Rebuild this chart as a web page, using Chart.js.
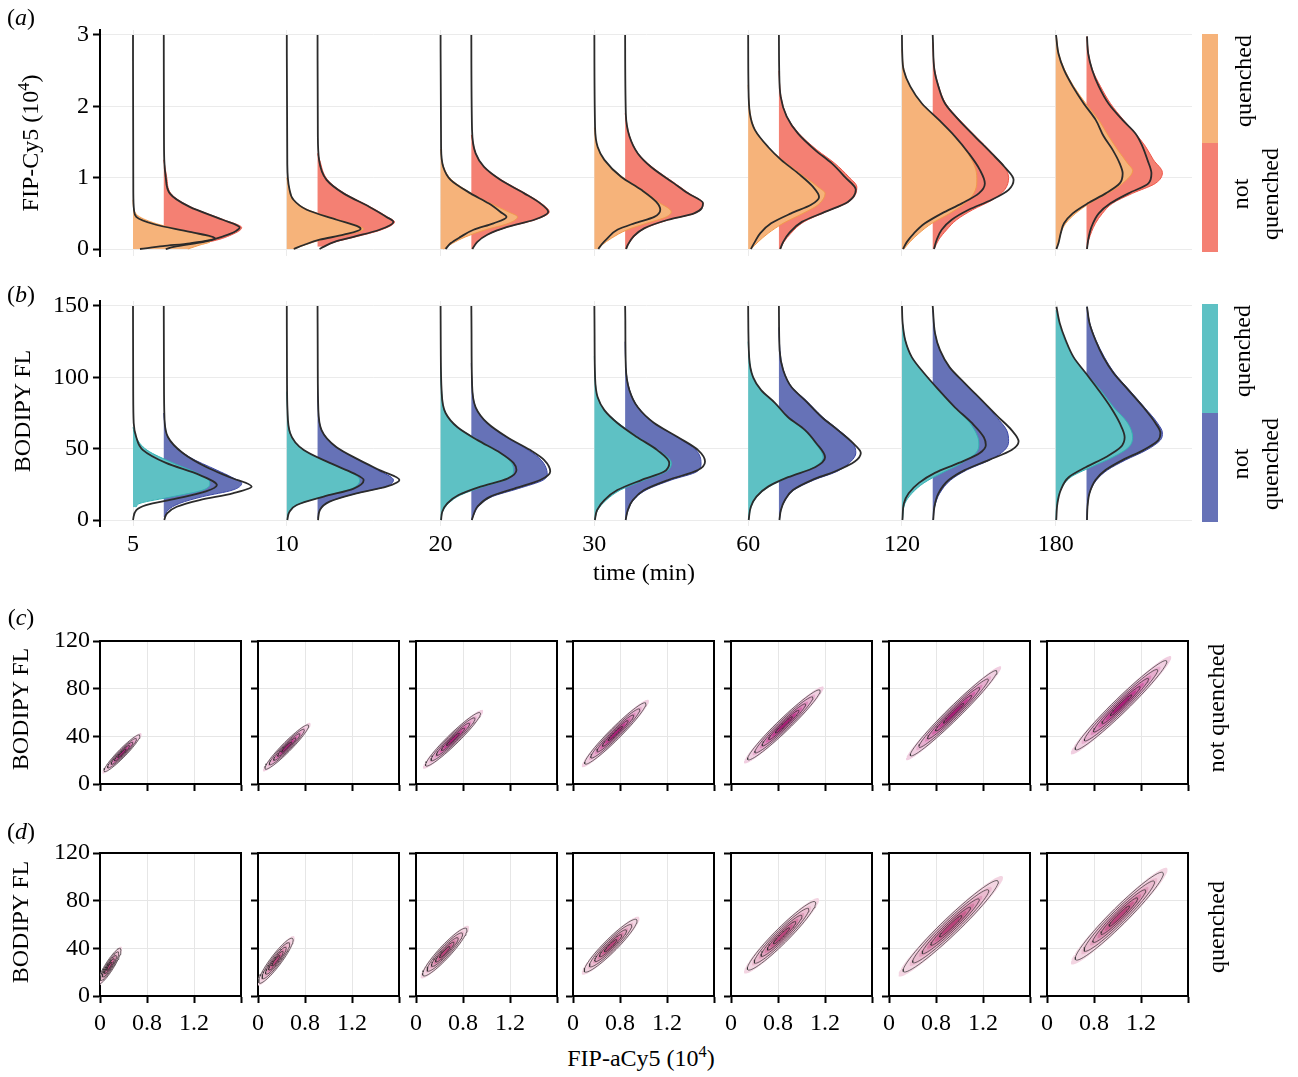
<!DOCTYPE html>
<html>
<head>
<meta charset="utf-8">
<script src="https://cdn.jsdelivr.net/npm/chart.js@4.4.0/dist/chart.umd.min.js"></script>
<style>
  body { margin: 0; background: #fff; }
  #fig { position: relative; width: 1298px; height: 1077px; overflow: hidden; background: #fff; }
  canvas { position: absolute; }
  .lbl { position: absolute; font-family: 'Liberation Serif', 'Times New Roman', serif; font-size: 24px;
         line-height: 1; white-space: nowrap; color: #000; transform: translate(-50%, -50%); }
  .rot { transform: translate(-50%, -50%) rotate(-90deg); text-align: center; }
  .two { line-height: 30px; }
  sup { font-size: 0.68em; line-height: 0; vertical-align: 0.55em; }
  .bar { position: absolute; width: 16px; }
</style>
</head>
<body>
<div id="fig">
  <canvas id="cy5" width="1298" height="276" style="left:0;top:0"></canvas>
  <canvas id="bodipy" width="1298" height="286" style="left:0;top:280px"></canvas>

  <div class="lbl" style="left:21px;top:17px">(<i>a</i>)</div>
  <div class="lbl" style="left:21px;top:294px">(<i>b</i>)</div>
  <div class="lbl" style="left:21px;top:617px">(<i>c</i>)</div>
  <div class="lbl" style="left:21px;top:831px">(<i>d</i>)</div>

  <div class="lbl rot" style="left:30px;top:143px">FIP-Cy5 (10<sup>4</sup>)</div>
  <div class="lbl rot" style="left:22px;top:411px">BODIPY FL</div>
  <div class="lbl rot" style="left:20px;top:709px">BODIPY FL</div>
  <div class="lbl rot" style="left:20px;top:922px">BODIPY FL</div>
  <div class="lbl" style="left:644px;top:572px">time (min)</div>
  <div class="lbl" style="left:641px;top:1058px">FIP-aCy5 (10<sup>4</sup>)</div>

  <div class="bar" style="left:1202px;top:34px;height:109px;background:#f6b37a"></div>
  <div class="bar" style="left:1202px;top:143px;height:109px;background:#f48073"></div>
  <div class="bar" style="left:1202px;top:304px;height:109px;background:#5ec1c4"></div>
  <div class="bar" style="left:1202px;top:413px;height:109px;background:#6672b7"></div>
  <div class="lbl rot" style="left:1243px;top:81px">quenched</div>
  <div class="lbl rot two" style="left:1255px;top:194px">not<br>quenched</div>
  <div class="lbl rot" style="left:1242px;top:351px">quenched</div>
  <div class="lbl rot two" style="left:1255px;top:464px">not<br>quenched</div>
  <div class="lbl rot" style="left:1216px;top:708px">not quenched</div>
  <div class="lbl rot" style="left:1216px;top:927px">quenched</div>
</div>

<script>
// ---- data ----
const timeLabels = ['5', '10', '20', '30', '60', '120', '180'];
const cy5Ticks = [0, 1, 2, 3];
const bodipyTicks = [0, 50, 100, 150];
const contourXTicks = [0, 0.4, 0.8, 1.2];
const contourXTickLabels = ['0', '0.8', '1.2', ''];
const contourYTicks = [0, 40, 80, 120];

// violin profiles: [signal level, relative density], one list per time point
const cy5QuenchedKde = [
  [[0,55],[0.01,57],[0.056,67],[0.1,77],[0.15,78],[0.23,60],[0.34,27],[0.45,6.7],[0.55,1],[0.69,0]],
  [[0,7],[0.056,18],[0.13,35],[0.2,60],[0.28,77],[0.31,74],[0.41,52],[0.55,21],[0.69,7],[0.85,2.5],[1.0,0]],
  [[0,3],[0.08,12],[0.17,25],[0.27,45],[0.36,68],[0.45,77],[0.52,68],[0.64,50],[0.78,31],[0.97,11],[1.15,3],[1.4,0]],
  [[0,4],[0.06,8],[0.15,17],[0.27,33],[0.36,52],[0.45,72],[0.52,77],[0.66,64],[0.83,48],[1.01,28],[1.25,10],[1.43,3.3],[1.7,0]],
  [[0,3],[0.1,10],[0.22,20],[0.36,35],[0.5,55],[0.62,70],[0.78,77],[0.87,70],[1.06,52],[1.25,34],[1.43,20],[1.67,7],[1.9,2],[2.3,0]],
  [[0,2],[0.1,8],[0.22,17],[0.36,30],[0.5,48],[0.64,63],[0.78,72],[0.95,75],[1.11,74],[1.34,66],[1.58,53],[1.81,37],[2.04,20],[2.28,8],[2.51,2],[2.8,0]],
  [[0,0.7],[0.08,2.7],[0.22,5],[0.36,10],[0.5,20],[0.64,34],[0.78,52],[0.92,67],[1.1,77],[1.2,72],[1.39,62],[1.58,53],[1.81,43],[2.04,30],[2.28,18],[2.51,9],[2.74,3],[2.98,0.7]]
];
const cy5QuenchedFit = [
  [[0,7],[0.04,30],[0.08,57],[0.15,82],[0.24,57],[0.34,23],[0.45,3.3],[0.55,1],[0.8,0.3],[3,0]],
  [[0,7],[0.056,17],[0.13,33],[0.2,57],[0.28,74],[0.31,72],[0.41,50],[0.55,20],[0.69,6.7],[0.85,2.5],[1.2,0.5],[3,0]],
  [[0,5],[0.08,10],[0.17,20],[0.27,33],[0.36,53],[0.45,66],[0.52,60],[0.64,48],[0.78,30],[0.97,10],[1.15,2.7],[1.43,0.5],[3,0]],
  [[0,4],[0.06,7],[0.15,13],[0.27,23],[0.36,40],[0.45,60],[0.55,66],[0.66,62],[0.83,47],[1.01,27],[1.25,10],[1.43,3.3],[1.7,0.7],[3,0]],
  [[0,2.7],[0.1,6.7],[0.22,12],[0.36,23],[0.5,43],[0.62,63],[0.73,71],[0.87,65],[1.06,50],[1.25,33],[1.43,20],[1.67,6.7],[1.9,1.7],[2.3,0.3],[3,0]],
  [[0,1],[0.1,5],[0.22,12],[0.36,23],[0.5,40],[0.64,60],[0.78,77],[0.92,83],[1.11,78],[1.34,67],[1.58,53],[1.81,37],[2.04,20],[2.28,8.3],[2.51,1.7],[2.74,0.3],[3,0]],
  [[0,0.7],[0.08,2.7],[0.22,5],[0.36,8.3],[0.5,17],[0.64,32],[0.78,50],[0.92,64],[1.06,67],[1.2,64],[1.39,57],[1.58,48],[1.81,40],[2.04,28],[2.28,17],[2.51,8.3],[2.74,2.7],[3,0.3]]
];
const cy5NotQuenchedKde = [
  [[0.05,20],[0.1,45],[0.2,68],[0.3,78],[0.41,60],[0.59,27],[0.78,7],[1.0,3],[1.25,0]],
  [[0.03,5],[0.1,18],[0.17,38],[0.27,64],[0.38,77],[0.45,70],[0.59,53],[0.78,27],[0.97,10],[1.25,2],[1.34,0]],
  [[0,1],[0.1,6],[0.2,16],[0.31,37],[0.41,64],[0.52,78],[0.64,70],[0.78,54],[0.97,30],[1.15,13],[1.34,4.5],[1.6,0]],
  [[0,1],[0.06,3],[0.17,9],[0.29,20],[0.41,44],[0.5,70],[0.64,78],[0.78,64],[0.92,50],[1.15,27],[1.34,13],[1.58,4.5],[1.9,0]],
  [[0,1.5],[0.1,5],[0.22,12],[0.38,25],[0.52,47],[0.66,70],[0.87,78],[1.01,70],[1.2,56],[1.39,38],[1.62,20],[1.86,8],[2.14,2],[2.5,0]],
  [[0,1.5],[0.13,6],[0.27,14],[0.41,24],[0.55,40],[0.69,60],[0.83,72],[1.0,76],[1.15,72],[1.34,60],[1.58,43],[1.81,27],[2.04,13],[2.28,6],[2.51,2],[2.9,0]],
  [[0,0.5],[0.13,2.3],[0.36,9],[0.5,16],[0.64,26],[0.78,46],[0.92,69],[1.07,76],[1.25,67],[1.44,59],[1.62,49],[1.81,37],[2.04,24],[2.28,14],[2.51,6],[2.74,2],[2.98,0.5]]
];
const cy5NotQuenchedFit = [
  [[0,2],[0.03,10],[0.1,40],[0.18,60],[0.25,72],[0.3,76],[0.41,59],[0.59,26],[0.78,6],[1.0,2],[1.25,0.5],[1.6,0.2],[3,0]],
  [[0,2],[0.03,6],[0.1,17],[0.17,36],[0.27,62],[0.38,76],[0.45,69],[0.59,52],[0.78,26],[0.97,9],[1.25,1.5],[1.6,0.3],[3,0]],
  [[0,1],[0.1,6],[0.2,16],[0.31,36],[0.41,63],[0.52,77],[0.64,69],[0.78,53],[0.97,29],[1.15,12.7],[1.34,4.3],[1.67,0.7],[3,0]],
  [[0,1],[0.06,2.7],[0.17,8],[0.29,19],[0.41,43],[0.5,69],[0.64,78],[0.78,63],[0.92,49],[1.15,26],[1.34,12.7],[1.58,4.3],[1.9,0.7],[3,0]],
  [[0,1.3],[0.1,4.3],[0.22,10],[0.38,23],[0.52,46],[0.66,69],[0.83,77],[1.01,66],[1.2,53],[1.39,36],[1.62,19],[1.86,7.7],[2.14,1.7],[2.5,0.3],[3,0]],
  [[0,1.3],[0.13,4],[0.27,9],[0.41,19],[0.55,36],[0.69,59],[0.83,76],[0.97,81],[1.15,72],[1.34,59],[1.58,42],[1.81,26],[2.04,12.3],[2.28,5.7],[2.51,1.7],[2.93,0.2],[3,0]],
  [[0,0.5],[0.13,1.7],[0.31,5],[0.5,12.3],[0.64,24],[0.78,42],[0.92,62],[1.06,65],[1.25,61],[1.44,56],[1.62,49],[1.81,36],[2.04,22],[2.28,12.3],[2.51,5.7],[2.74,1.7],[2.98,0.5]]
];

const bodipyQuenchedKde = [
  [[9,3],[11.7,7],[16.4,40],[21,70],[26,77],[32,67],[40,40],[49,14],[58,3],[65,0]],
  [[0,0.5],[5.8,2.7],[10.5,10],[16.4,36],[22,65],[28,73],[32.7,66],[40,43],[49,17],[61,3.3],[77,0.7],[90,0]],
  [[0,0.5],[5.8,2],[11.7,8],[17.5,20],[23.4,43],[29,68],[35,73],[40,71],[47,60],[56,38],[65,17],[75,5],[91,1],[110,0]],
  [[0,0.5],[7,3.3],[14,12],[21,26],[28,50],[34,72],[40,77],[49,64],[58,44],[68,24],[77,10],[86,3.3],[100,0.7],[115,0]],
  [[0,0.5],[9.3,3],[16.4,9],[23.4,21],[30,41],[37,66],[44,75],[54,67],[63,56],[72,40],[82,27],[91,13],[100,5],[114,1],[125,0]],
  [[0,0.5],[11.7,3],[18.7,10],[26,22],[33,40],[40,60],[47,74],[52.6,77],[58,76],[68,68],[79,53],[91,37],[103,22],[114,10],[126,3.3],[138,0.5]],
  [[0,0.5],[11.7,1],[21,5],[30,15],[37,35],[44,57],[51,73],[58,77],[68,72],[79,58],[91,45],[103,30],[114,18],[126,9],[138,3.3],[147,0.5]]
];
const bodipyQuenchedFit = [
  [[0,0],[7,3.3],[10.5,13],[15,43],[20,73],[24.5,84],[31.5,67],[40,33],[49,10],[58,3.3],[68,0.7],[90,0.2],[150,0]],
  [[0,0.5],[5.8,2.7],[10.5,10],[16.4,37],[22,67],[28,77],[32.7,67],[40,43],[49,17],[61,3.3],[77,0.7],[100,0.2],[150,0]],
  [[0,0.5],[5.8,1.7],[11.7,6.7],[17.5,18],[23.4,40],[29,67],[35,76],[40,73],[47,60],[56,37],[65,17],[75,5],[91,1],[120,0.2],[150,0]],
  [[0,0.5],[7,2.7],[14,10],[21,23],[28,47],[34,70],[40,75],[49,63],[58,43],[68,23],[77,10],[86,3.3],[100,0.7],[130,0.2],[150,0]],
  [[0,0.5],[9.3,2.7],[16.4,8.3],[23.4,20],[30,40],[37,67],[44,77],[54,68],[63,57],[72,40],[82,27],[91,13],[100,5],[114,1],[150,0]],
  [[0,0.5],[11.7,2],[18.7,6.7],[26,17],[33,33],[40,57],[47,78],[52.6,84],[58,82],[68,70],[79,53],[91,37],[103,22],[114,10],[126,3.3],[138,0.7],[150,0]],
  [[0,0.5],[11.7,1.7],[21,5],[30,13],[37,30],[44,50],[51,65],[58,69],[68,64],[79,55],[91,43],[103,30],[114,18],[126,10],[138,4],[149.5,0.7]]
];
const bodipyNotQuenchedKde = [
  [[2,1],[7,4.3],[11.7,16],[16.4,39],[21,69],[25.7,78],[30,68],[35,53],[44,26],[56,6],[68,1],[75,0]],
  [[1,0.5],[7,2.5],[12.9,12],[18.7,39],[23.4,68],[28,76],[35,60],[42,41],[51,19],[63,4],[79,0.7],[95,0]],
  [[0,0.5],[4.7,3],[9.3,7],[16.4,21],[22,47],[28,72],[32,76],[42,70],[49,57],[58,35],[68,16],[79,4.3],[96,0.7],[110,0]],
  [[0,0.5],[7,3],[14,8.5],[21,21],[28,46],[34,72],[40,76],[49,71],[58,52],[68,29],[79,13],[91,4.5],[107,0.7],[125,0]],
  [[0,0.5],[7,2],[14,6.5],[21,15],[28,35],[34,58],[41,72],[47,77],[54,74],[63,60],[72,44],[84,27],[93,13],[105,4.5],[119,1],[135,0]],
  [[0,0.5],[9.3,2],[18.7,7],[28,18],[35,34],[42,57],[49,72],[55,76],[63,74],[72,64],[84,49],[96,32],[107,17],[119,7.3],[131,2.3],[147,0.3]],
  [[0,0.5],[9.3,1],[18.7,3],[28,10],[35,21],[42,39],[49,60],[56,74],[61,76],[68,71],[79,58],[91,43],[103,28],[114,18],[126,9.5],[138,3.3],[149.5,0.5]]
];
const bodipyNotQuenchedFit = [
  [[0,0.5],[4.7,3.3],[9.3,13],[14,36],[18.7,69],[23.4,88],[30,66],[37,43],[47,19],[58,4.3],[72,0.7],[100,0.2],[150,0]],
  [[0,0.5],[7,2.3],[12.9,12],[18.7,39],[23.4,69],[28,82],[35,62],[42,42],[51,19],[63,4],[79,0.7],[110,0.2],[150,0]],
  [[0,0.5],[4.7,2.7],[9.3,6],[16.4,19],[22,43],[28,69],[34,79],[42,73],[49,59],[58,36],[68,16],[79,4.3],[96,0.7],[130,0.2],[150,0]],
  [[0,0.5],[7,2.7],[14,7.7],[21,19],[28,43],[35,73],[41,80],[49,73],[58,53],[68,29],[79,12.7],[91,4.3],[107,0.7],[140,0.2],[150,0]],
  [[0,0.5],[7,2],[14,6],[21,14],[28,33],[34,56],[41,76],[47,82],[54,74],[63,59],[72,43],[84,26],[93,12.7],[105,4.3],[119,0.7],[150,0]],
  [[0,0.5],[9.3,1.7],[18.7,5.7],[28,16],[35,32],[42,56],[49,79],[55,86],[63,79],[72,66],[84,49],[96,32],[107,17],[119,7.3],[131,2.3],[147,0.3],[150,0]],
  [[0,0.5],[9.3,1],[18.7,3],[28,9],[35,19],[42,36],[49,57],[56,72],[61,74],[68,69],[79,57],[91,42],[103,27],[114,17],[126,9],[138,3],[149.5,0.5]]
];

// 2D densities (FIP-aCy5 vs BODIPY FL): centre, spread, correlation per time point
const nqCenterCy5 = [0.187, 0.245, 0.315, 0.36, 0.45, 0.55, 0.63];
const nqCenterBodipy = [25.8, 31, 37.5, 42.4, 49.6, 59.4, 66.1];
const nqSpreadCy5 = [0.051, 0.062, 0.078, 0.087, 0.103, 0.123, 0.13];
const nqSpreadBodipy = [5.15, 6.2, 7.5, 8.6, 9.8, 11.95, 12.5];
const nqCorrelation = [0.95, 0.955, 0.96, 0.965, 0.97, 0.978, 0.975];

const qCenterCy5 = [0.08, 0.152, 0.245, 0.32, 0.43, 0.525, 0.615];
const qCenterBodipy = [25, 29.6, 36.85, 42.2, 50.5, 58.5, 67];
const qSpreadCy5 = [0.033, 0.049, 0.063, 0.075, 0.097, 0.135, 0.125];
const qSpreadBodipy = [5.0, 6.3, 6.7, 7.4, 9.6, 12.8, 12.3];
const qCorrelation = [0.9, 0.92, 0.93, 0.94, 0.955, 0.968, 0.964];

// ---- styling / layout ----
const DENSITY_SCALE = 1 / 154;   // relative density -> width in category units
const NQ_OFFSET = 0.2;           // second half-violin sits right of the first
const GRID = '#ebebeb';
const OUTLINE = '#2b2b2b';
const FILL_RADII = [3.3, 2.6, 2.0, 1.5, 1.0, 0.55];
const LINE_RADII = [3.0, 2.4, 1.8, 1.25, 0.7];
const NQ_SHADES = ['#f1cfe1', '#e7afcf', '#dc8bbb', '#cf64a5', '#be3e8e', '#a91d77'];
const Q_SHADES = ['#f3d5e2', '#ebbcd0', '#e09fbc', '#d47fa5', '#c75f8e', '#b8437a'];
const SUBPLOT_LEFT = [100, 258, 416, 573, 731, 889, 1047];

Chart.defaults.font.family = "'Liberation Serif', 'Times New Roman', serif";
Chart.defaults.font.size = 24;
Chart.defaults.color = '#000';

function profileToPoints(profile, anchor) {
  return profile.map(p => ({ x: anchor + p[1] * DENSITY_SCALE, y: p[0] }));
}

function buildViolinChart(canvasId, cfg) {
  const datasets = [];
  timeLabels.forEach((t, i) => {
    const a = i, b = i + NQ_OFFSET;
    // not quenched behind, quenched in front, fitted curves on top
    datasets.push({ data: profileToPoints(cfg.nqKde[i], b), backgroundColor: cfg.nqColor,
      borderColor: cfg.nqEdge, borderWidth: 1, fill: { value: b }, order: 2 });
    datasets.push({ data: profileToPoints(cfg.qKde[i], a), backgroundColor: cfg.qColor,
      borderColor: cfg.qEdge, borderWidth: 1, fill: { value: a }, order: 1 });
    datasets.push({ data: profileToPoints(cfg.nqFit[i], b), borderColor: OUTLINE, borderWidth: 1.8, fill: false, order: 0 });
    datasets.push({ data: profileToPoints(cfg.qFit[i], a), borderColor: OUTLINE, borderWidth: 1.8, fill: false, order: 0 });
  });

  return new Chart(document.getElementById(canvasId), {
    type: 'line',
    data: { datasets },
    options: {
      indexAxis: 'y',
      responsive: false,
      animation: false,
      events: [],
      layout: { padding: cfg.padding },
      plugins: { legend: { display: false }, tooltip: { enabled: false } },
      elements: { point: { radius: 0 }, line: { cubicInterpolationMode: 'monotone' } },
      scales: {
        x: {
          type: 'linear', min: -0.2146, max: 6.886,
          afterBuildTicks: s => { s.ticks = timeLabels.map((t, i) => ({ value: i })); },
          afterFit: s => { s.height = cfg.xAxisHeight; },
          grid: { color: GRID, drawTicks: false },
          border: { display: false },
          ticks: { display: cfg.showTime, autoSkip: false, maxRotation: 0, padding: 4,
                   callback: (v, idx) => timeLabels[idx] }
        },
        y: {
          type: 'linear', min: cfg.yMin, max: cfg.yMax,
          afterBuildTicks: s => { s.ticks = cfg.yTicks.map(v => ({ value: v })); },
          afterFit: s => { s.width = 100; },
          grid: { color: GRID, tickColor: '#000', tickWidth: 2, tickLength: 7 },
          border: { color: '#000', width: 2 },
          ticks: { padding: 4 }
        }
      }
    }
  });
}

buildViolinChart('cy5', {
  qKde: cy5QuenchedKde, qFit: cy5QuenchedFit, nqKde: cy5NotQuenchedKde, nqFit: cy5NotQuenchedFit,
  qColor: '#f6b37a', qEdge: '#f29a4c', nqColor: '#f48073', nqEdge: '#ee5648',
  yTicks: cy5Ticks, yMin: -0.098, yMax: 3.07,
  padding: { left: 0, right: 106, top: 30, bottom: 20 }, xAxisHeight: 0, showTime: false
});

buildViolinChart('bodipy', {
  qKde: bodipyQuenchedKde, qFit: bodipyQuenchedFit, nqKde: bodipyNotQuenchedKde, nqFit: bodipyNotQuenchedFit,
  qColor: '#5ec1c4', qEdge: '#36b2b4', nqColor: '#6672b7', nqEdge: '#3d49a6',
  yTicks: bodipyTicks, yMin: -4.2, yMax: 153.5,
  padding: { left: 0, right: 106, top: 21, bottom: 0 }, xAxisHeight: 40, showTime: true
});

// ---- contour panels ----
function contourArc(cx, cy, sx, sy, rho, r, from, to) {
  const pts = [];
  const k = Math.sqrt(1 - rho * rho);
  const n = 60;
  for (let j = 0; j <= n; j++) {
    const t = from + (to - from) * j / n;
    pts.push({ x: cx + r * sx * Math.cos(t), y: cy + r * sy * (rho * Math.cos(t) + k * Math.sin(t)) });
  }
  return pts;
}

function edgeGrid(lo, hi) {
  return ctx => (ctx.tick && (ctx.tick.value === lo || ctx.tick.value === hi)) ? 'rgba(0,0,0,0)' : '#e6e6e6';
}

function buildContourChart(canvas, i, cfg) {
  const cx = cfg.cx[i], cy = cfg.cy[i], sx = cfg.sx[i], sy = cfg.sy[i], rho = cfg.rho[i];
  const datasets = [];
  FILL_RADII.forEach((r, k) => {
    datasets.push({ data: contourArc(cx, cy, sx, sy, rho, r, Math.PI, 2 * Math.PI),
      borderWidth: 0, fill: false, order: 20 - k });
    datasets.push({ data: contourArc(cx, cy, sx, sy, rho, r, Math.PI, 0),
      borderWidth: 0, backgroundColor: cfg.shades[k], fill: '-1', order: 20 - k });
  });
  LINE_RADII.forEach(r => {
    datasets.push({ data: contourArc(cx, cy, sx, sy, rho, r, 0, 2 * Math.PI),
      borderColor: 'rgba(45,45,45,0.85)', borderWidth: 0.8, fill: false, order: 0 });
  });

  return new Chart(canvas, {
    type: 'line',
    data: { datasets },
    options: {
      responsive: false,
      animation: false,
      events: [],
      layout: { padding: { left: 0, right: 12, top: 20, bottom: 0 } },
      plugins: { legend: { display: false }, tooltip: { enabled: false } },
      elements: { point: { radius: 0 }, line: { tension: 0 } },
      scales: {
        x: {
          type: 'linear', min: 0, max: 1.2,
          afterBuildTicks: s => { s.ticks = contourXTicks.map(v => ({ value: v })); },
          afterFit: s => { s.height = 45; },
          grid: { color: edgeGrid(0, 1.2), tickColor: '#000', tickWidth: 2, tickLength: 7 },
          border: { color: '#000', width: 2 },
          ticks: { display: cfg.showX, autoSkip: false, maxRotation: 0, padding: 6,
                   callback: (v, idx) => contourXTickLabels[idx] }
        },
        y: {
          type: 'linear', min: 0, max: 120,
          afterBuildTicks: s => { s.ticks = contourYTicks.map(v => ({ value: v })); },
          afterFit: s => { s.width = 70; },
          grid: { color: edgeGrid(0, 120), tickColor: '#000', tickWidth: 2, tickLength: 7 },
          border: { color: '#000', width: 2 },
          ticks: { display: i === 0, padding: 3 }
        },
        x2: {
          type: 'linear', position: 'top',
          grid: { display: false, drawTicks: false }, ticks: { display: false },
          border: { color: '#000', width: 2 },
          afterFit: s => { s.height = 0; }
        },
        y2: {
          type: 'linear', position: 'right',
          grid: { display: false, drawTicks: false }, ticks: { display: false },
          border: { color: '#000', width: 2 },
          afterFit: s => { s.width = 0; }
        }
      }
    }
  });
}

const fig = document.getElementById('fig');
[
  { top: 641, cx: nqCenterCy5, cy: nqCenterBodipy, sx: nqSpreadCy5, sy: nqSpreadBodipy, rho: nqCorrelation, shades: NQ_SHADES, showX: false },
  { top: 853, cx: qCenterCy5, cy: qCenterBodipy, sx: qSpreadCy5, sy: qSpreadBodipy, rho: qCorrelation, shades: Q_SHADES, showX: true }
].forEach(row => {
  timeLabels.forEach((t, i) => {
    const c = document.createElement('canvas');
    c.width = 223;
    c.height = 208;
    c.style.left = (SUBPLOT_LEFT[i] - 70) + 'px';
    c.style.top = (row.top - 20) + 'px';
    fig.appendChild(c);
    buildContourChart(c, i, row);
  });
});
</script>
</body>
</html>
